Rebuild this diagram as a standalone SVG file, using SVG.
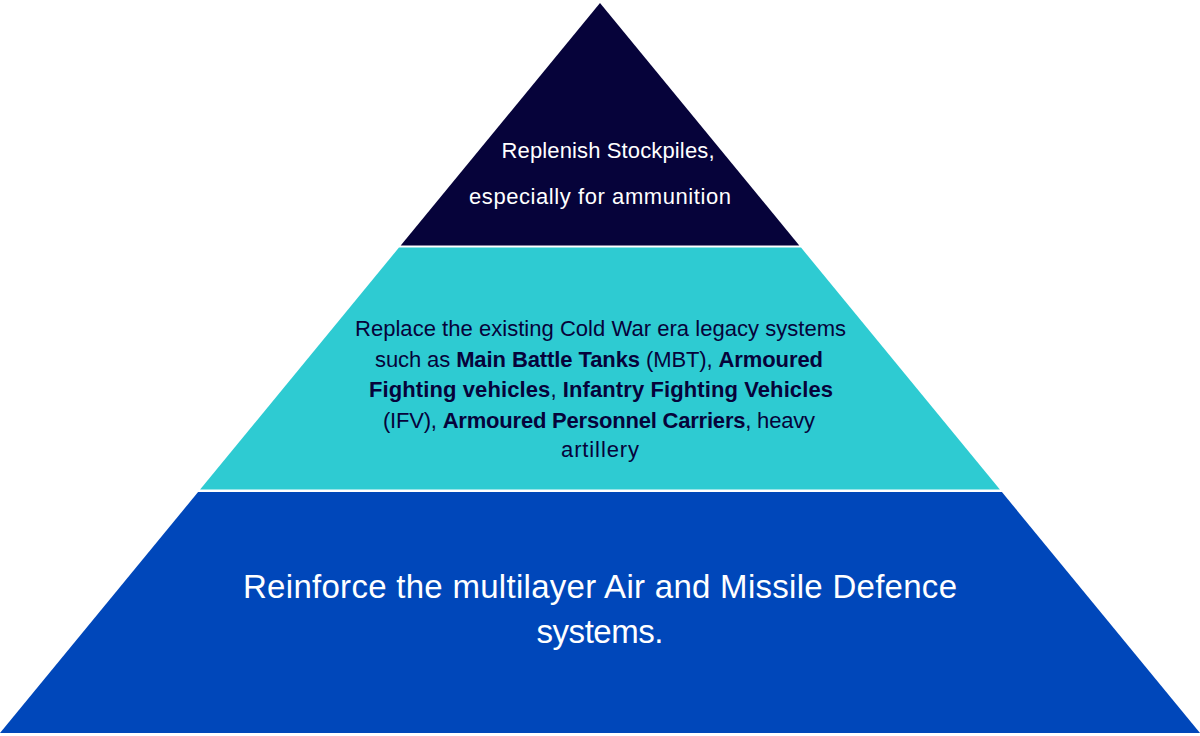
<svg xmlns="http://www.w3.org/2000/svg" width="1200" height="736" viewBox="0 0 1200 736">
<style>
.t{font-family:"Liberation Sans",Arial,sans-serif;text-anchor:middle}
.w{fill:#ffffff}
.d{fill:#06033a}
.b{font-weight:bold}
</style>
<rect width="1200" height="736" fill="#ffffff"/>
<g id="tier-top">
<polygon points="600,3 799.3,245.5 400.7,245.5" fill="#06033a"/>
<text class="t w" font-size="22" x="608" y="158" textLength="213">Replenish Stockpiles,</text>
<text class="t w" font-size="22" x="600" y="204" textLength="262">especially for ammunition</text>
</g>
<g id="tier-middle">
<polygon points="399,247.5 801,247.5 999.9,489.5 200.1,489.5" fill="#2ecbd2"/>
<text class="t d" font-size="22" x="600.5" y="336" textLength="491">Replace the existing Cold War era legacy systems</text>
<text class="t d" font-size="22" x="599" y="367" textLength="448">such as <tspan class="b">Main Battle Tanks</tspan> (MBT), <tspan class="b">Armoured</tspan></text>
<text class="t d" font-size="22" x="601" y="397" textLength="464"><tspan class="b">Fighting vehicles</tspan>, <tspan class="b">Infantry Fighting Vehicles</tspan></text>
<text class="t d" font-size="22" x="599" y="428" textLength="432">(IFV), <tspan class="b">Armoured Personnel Carriers</tspan>, heavy</text>
<text class="t d" font-size="22" x="600" y="457" textLength="78">artillery</text>
</g>
<g id="tier-bottom">
<polygon points="198.1,492 1001.9,492 1200,733 0,733" fill="#0047ba"/>
<text class="t w" font-size="33" x="600" y="598" textLength="714">Reinforce the multilayer Air and Missile Defence</text>
<text class="t w" font-size="33" x="600" y="643" textLength="127">systems.</text>
</g>
<g id="connectors"/>
</svg>
